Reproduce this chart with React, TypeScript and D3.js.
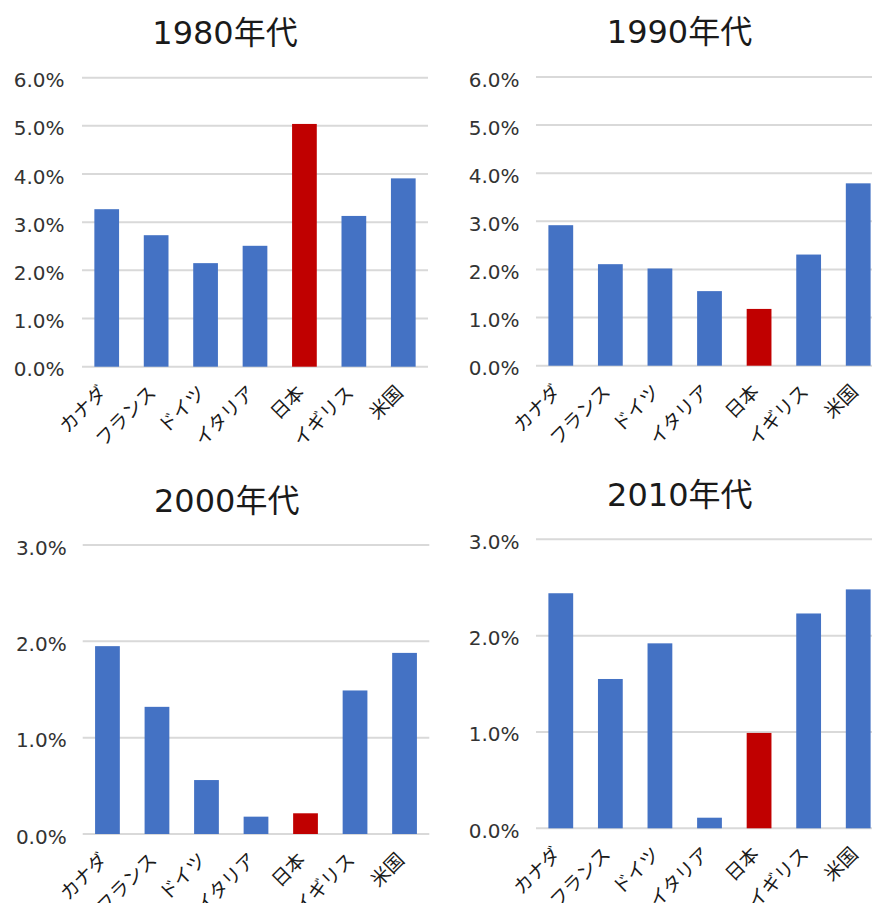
import React, { useEffect, useRef } from 'react';
import * as d3 from 'd3';

const categories = ['カナダ', 'フランス', 'ドイツ', 'イタリア', '日本', 'イギリス', '米国'];
const values1980 = [3.27, 2.73, 2.15, 2.51, 5.04, 3.13, 3.91];
const values1990 = [2.92, 2.11, 2.02, 1.55, 1.18, 2.31, 3.79];
const values2000 = [1.95, 1.32, 0.56, 0.18, 0.215, 1.49, 1.88];
const values2010 = [2.44, 1.55, 1.92, 0.11, 0.99, 2.23, 2.48];
const ticksWide = [0, 1, 2, 3, 4, 5, 6];
const ticksNarrow = [0, 1, 2, 3];
const titles = ['1980年代', '1990年代', '2000年代', '2010年代'];

const BLUE = '#4472C4';
const RED = '#C00000';
const LATIN = '"DejaVu Sans", "Noto Sans CJK JP", sans-serif';
const CJK = '"Noto Sans CJK JP", sans-serif';

const panels = [
  { title: titles[0], values: values1980, ticks: ticksWide, x0: 82, x1: 428, yTop: 77.7, yBottom: 366.7, labelRight: 64.5, titleX: 225, titleY: 44 },
  { title: titles[1], values: values1990, ticks: ticksWide, x0: 536, x1: 883, yTop: 77, yBottom: 365.7, labelRight: 519.5, titleX: 679.5, titleY: 43.3 },
  { title: titles[2], values: values2000, ticks: ticksNarrow, x0: 82.7, x1: 429.3, yTop: 545, yBottom: 834, labelRight: 66.7, titleX: 226.7, titleY: 511.7 },
  { title: titles[3], values: values2010, ticks: ticksNarrow, x0: 536, x1: 883, yTop: 539.3, yBottom: 828.3, labelRight: 519.5, titleX: 679.8, titleY: 506 },
];

const App = () => {
  const ref = useRef<SVGSVGElement>(null);

  useEffect(() => {
    const svg = d3.select(ref.current);
    svg.selectAll('*').remove();

    panels.forEach(p => {
      const g = svg.append('g');
      const x = d3.scaleBand().domain(categories).range([p.x0, p.x1]).paddingInner(0.5).paddingOuter(0.25);
      const maxTick = p.ticks[p.ticks.length - 1];
      const y = d3.scaleLinear().domain([0, maxTick]).range([p.yBottom, p.yTop]);

      // title
      g.append('text')
        .attr('x', p.titleX)
        .attr('y', p.titleY)
        .attr('text-anchor', 'middle')
        .attr('font-family', LATIN)
        .attr('font-size', 32)
        .attr('fill', '#1a1a1a')
        .text(p.title);

      // gridlines
      g.selectAll('.grid')
        .data(p.ticks)
        .join('line')
        .attr('x1', p.x0)
        .attr('x2', Math.min(p.x1, 872))
        .attr('y1', d => y(d))
        .attr('y2', d => y(d))
        .attr('stroke', '#d9d9d9')
        .attr('stroke-width', 2);

      // y tick labels
      g.selectAll('.ytick')
        .data(p.ticks)
        .join('text')
        .attr('x', p.labelRight)
        .attr('y', d => y(d) + 9.5)
        .attr('text-anchor', 'end')
        .attr('font-family', LATIN)
        .attr('font-size', 20)
        .attr('fill', '#333')
        .text(d => d3.format('.1f')(d) + '%');

      // bars
      g.selectAll('.bar')
        .data(p.values)
        .join('rect')
        .attr('x', (d, i) => x(categories[i])!)
        .attr('width', x.bandwidth())
        .attr('y', d => y(d))
        .attr('height', d => y(0) - y(d))
        .attr('fill', (d, i) => (categories[i] === '日本' ? RED : BLUE));

      // x labels, rotated
      g.selectAll('.xlabel')
        .data(categories)
        .join('text')
        .attr('transform', d => `translate(${x(d)! + x.bandwidth() / 2 + 1}, ${p.yBottom + 27}) rotate(-45)`)
        .attr('text-anchor', 'end')
        .attr('font-family', CJK)
        .attr('font-size', 19)
        .attr('fill', '#1a1a1a')
        .text(d => d);
    });
  }, []);

  return (
    <svg
      ref={ref}
      width={872}
      height={903}
      style={{ position: 'absolute', left: 0, top: 0, background: '#fff' }}
    />
  );
};

export default App;
